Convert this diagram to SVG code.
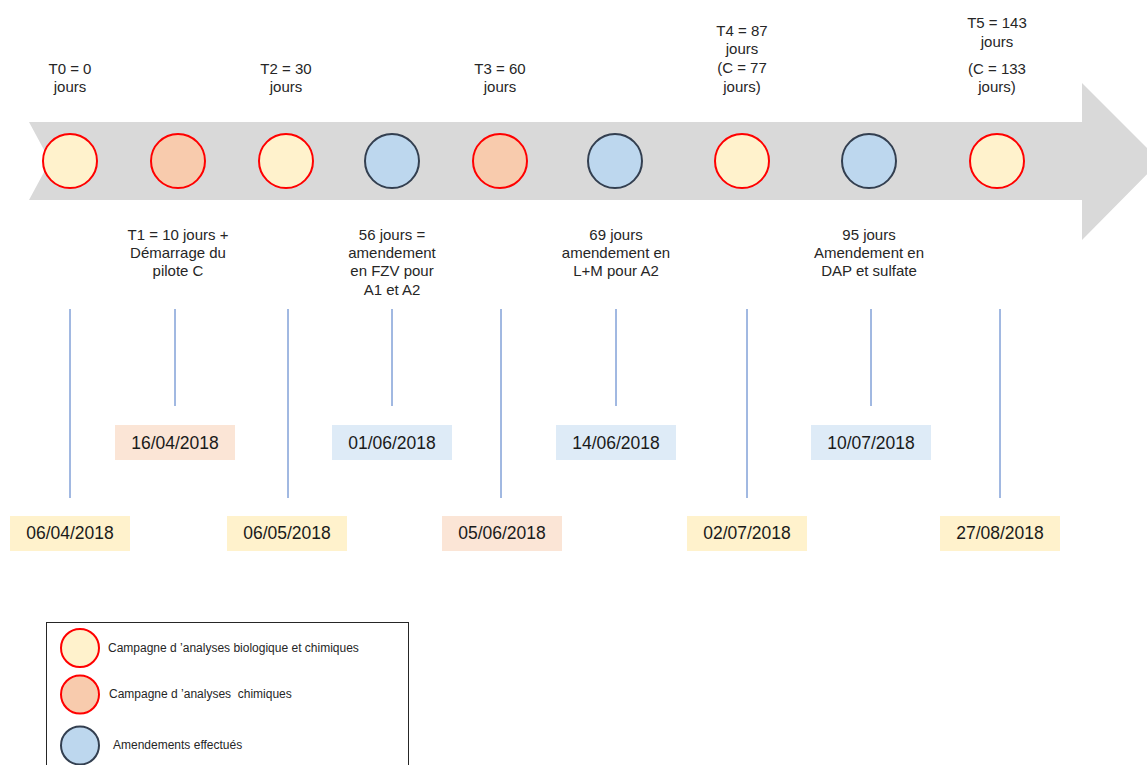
<svg xmlns="http://www.w3.org/2000/svg" width="1147" height="765" viewBox="0 0 1147 765">
  <style>
    .lbl { font-family: "Liberation Sans", Arial, sans-serif; font-size: 15px; fill: #262626; text-anchor: middle; }
    .date { font-family: "Liberation Sans", Arial, sans-serif; font-size: 17.5px; fill: #1a1a1a; text-anchor: middle; }
    .leg { font-family: "Liberation Sans", Arial, sans-serif; font-size: 12px; fill: #262626; white-space: pre; }
    .bio { fill: #FFF2CC; stroke: #FF0000; stroke-width: 2; }
    .chim { fill: #F8CBAD; stroke: #FF0000; stroke-width: 2; }
    .amd { fill: #BDD7EE; stroke: #333F50; stroke-width: 2; }
    .tick { stroke: #4472C4; stroke-width: 1; }
    .by { fill: #FFF2CC; }
    .bo { fill: #FBE5D6; }
    .bb { fill: #DEEBF7; }
  </style>

  <rect width="1147" height="765" fill="#FFFFFF"/>

  <!-- timeline arrow -->
  <path id="timeline" d="M29,122 L1082,122 L1082,83 L1160,161 L1082,240 L1082,200 L29,200 L50,161 Z" fill="#D9D9D9"/>

  <!-- tick connectors -->
  <g id="connectors">
    <line class="tick" x1="70" y1="309" x2="70" y2="498"/>
    <line class="tick" x1="175" y1="309" x2="175" y2="406"/>
    <line class="tick" x1="288" y1="309" x2="288" y2="498"/>
    <line class="tick" x1="392" y1="309" x2="392" y2="406"/>
    <line class="tick" x1="501" y1="309" x2="501" y2="498"/>
    <line class="tick" x1="616" y1="309" x2="616" y2="406"/>
    <line class="tick" x1="747" y1="309" x2="747" y2="498"/>
    <line class="tick" x1="871" y1="309" x2="871" y2="406"/>
    <line class="tick" x1="1000" y1="309" x2="1000" y2="498"/>
  </g>

  <!-- milestones -->
  <g id="t0">
    <circle class="bio" cx="70" cy="161" r="27"/>
    <text class="lbl" x="70" y="74">T0 = 0</text>
    <text class="lbl" x="70" y="92">jours</text>
    <rect class="by" x="10" y="516" width="120" height="35"/>
    <text class="date" x="70" y="539">06/04/2018</text>
  </g>
  <g id="t1">
    <circle class="chim" cx="178" cy="161" r="27"/>
    <text class="lbl" x="178" y="240">T1 = 10 jours +</text>
    <text class="lbl" x="178" y="258">Démarrage du</text>
    <text class="lbl" x="178" y="276">pilote C</text>
    <rect class="bo" x="115" y="425" width="120" height="35"/>
    <text class="date" x="175" y="449">16/04/2018</text>
  </g>
  <g id="t2">
    <circle class="bio" cx="286" cy="161" r="27"/>
    <text class="lbl" x="286" y="74">T2 = 30</text>
    <text class="lbl" x="286" y="92">jours</text>
    <rect class="by" x="227" y="516" width="120" height="35"/>
    <text class="date" x="287" y="539">06/05/2018</text>
  </g>
  <g id="a56">
    <circle class="amd" cx="392" cy="161" r="27"/>
    <text class="lbl" x="392" y="240">56 jours =</text>
    <text class="lbl" x="392" y="258">amendement</text>
    <text class="lbl" x="392" y="276">en FZV pour</text>
    <text class="lbl" x="392" y="295">A1 et A2</text>
    <rect class="bb" x="332" y="425" width="120" height="35"/>
    <text class="date" x="392" y="449">01/06/2018</text>
  </g>
  <g id="t3">
    <circle class="chim" cx="500" cy="161" r="27"/>
    <text class="lbl" x="500" y="74">T3 = 60</text>
    <text class="lbl" x="500" y="92">jours</text>
    <rect class="bo" x="442" y="516" width="120" height="35"/>
    <text class="date" x="502" y="539">05/06/2018</text>
  </g>
  <g id="a69">
    <circle class="amd" cx="615" cy="161" r="27"/>
    <text class="lbl" x="616" y="240">69 jours</text>
    <text class="lbl" x="616" y="258">amendement en</text>
    <text class="lbl" x="616" y="276">L+M pour A2</text>
    <rect class="bb" x="556" y="425" width="120" height="35"/>
    <text class="date" x="616" y="449">14/06/2018</text>
  </g>
  <g id="t4">
    <circle class="bio" cx="742" cy="161" r="27"/>
    <text class="lbl" x="742" y="36">T4 = 87</text>
    <text class="lbl" x="742" y="54">jours</text>
    <text class="lbl" x="742" y="73">(C = 77</text>
    <text class="lbl" x="742" y="92">jours)</text>
    <rect class="by" x="687" y="516" width="120" height="35"/>
    <text class="date" x="747" y="539">02/07/2018</text>
  </g>
  <g id="a95">
    <circle class="amd" cx="869" cy="161" r="27"/>
    <text class="lbl" x="869" y="240">95 jours</text>
    <text class="lbl" x="869" y="258">Amendement en</text>
    <text class="lbl" x="869" y="276">DAP et sulfate</text>
    <rect class="bb" x="811" y="425" width="120" height="35"/>
    <text class="date" x="871" y="449">10/07/2018</text>
  </g>
  <g id="t5">
    <circle class="bio" cx="997" cy="161" r="27"/>
    <text class="lbl" x="997" y="28">T5 = 143</text>
    <text class="lbl" x="997" y="47">jours</text>
    <text class="lbl" x="997" y="74">(C = 133</text>
    <text class="lbl" x="997" y="92">jours)</text>
    <rect class="by" x="940" y="516" width="120" height="35"/>
    <text class="date" x="1000" y="539">27/08/2018</text>
  </g>

  <!-- legend -->
  <g id="legend">
    <rect x="46.5" y="622.5" width="362" height="150" fill="#FFFFFF" stroke="#262626" stroke-width="1"/>
    <circle class="bio" cx="80" cy="648" r="19" stroke-width="1.5"/>
    <text class="leg" x="108" y="652">Campagne d ’analyses biologique et chimiques</text>
    <circle class="chim" cx="80" cy="694.5" r="19" stroke-width="1.5"/>
    <text class="leg" x="109" y="698" xml:space="preserve">Campagne d ’analyses  chimiques</text>
    <circle class="amd" cx="80" cy="745.5" r="19" stroke-width="1.5"/>
    <text class="leg" x="113" y="749">Amendements effectués</text>
  </g>
</svg>
